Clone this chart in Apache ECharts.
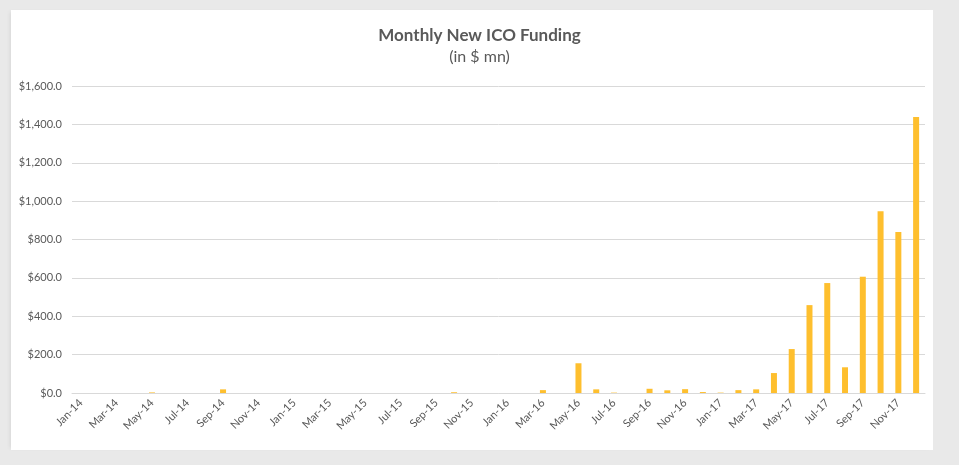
<!DOCTYPE html>
<html>
<head>
<meta charset="utf-8">
<script src="https://cdn.jsdelivr.net/npm/echarts@6/dist/echarts.min.js"></script>
<style>
html,body{margin:0;padding:0;background:#e9e9e9;width:959px;height:465px;overflow:hidden;}
#panel{position:absolute;left:11px;top:10px;width:922px;height:440px;background:#fff;box-shadow:-3px 0 4px -2px rgba(0,0,0,0.08);}
#chart{position:absolute;left:0;top:0;width:959px;height:465px;}
</style>
</head>
<body>
<div id="panel"></div>
<div id="chart"></div>
<script>
const months = ['Jan','Feb','Mar','Apr','May','Jun','Jul','Aug','Sep','Oct','Nov','Dec'];
const years = ['14','15','16','17'];
const categories = [];
years.forEach(y => months.forEach(m => categories.push(m + '-' + y)));

const funding2014 = [0, 0, 0, 0, 3, 0, 0, 0, 19, 0, 0, 0];
const funding2015 = [0, 0, 0, 0, 0, 0, 0, 0, 0, 4, 0, 0];
const funding2016 = [0, 0, 15, 0, 155, 19, 2, 0, 22, 14, 20, 5];
const funding2017 = [2, 15, 19, 104, 229, 458, 573, 134, 606, 947, 839, 1438];
const values = [].concat(funding2014, funding2015, funding2016, funding2017);

const yTicks = [0, 200, 400, 600, 800, 1000, 1200, 1400, 1600];

const chart = echarts.init(document.getElementById('chart'));
const font = 'Lato, "Open Sans", sans-serif';
chart.setOption({
  backgroundColor: 'transparent',
  animation: false,
  title: {
    text: 'Monthly New ICO Funding',
    subtext: '(in $ mn)',
    left: 'center',
    top: 22,
    itemGap: 5,
    textStyle: {fontFamily: font, fontSize: 17, fontWeight: 'bold', color: '#595959'},
    subtextStyle: {fontFamily: font, fontSize: 16, color: '#595959'}
  },
  grid: {left: 72, right: 34, top: 86, bottom: 72},
  xAxis: {
    type: 'category',
    data: categories,
    boundaryGap: true,
    axisLine: {lineStyle: {color: '#d9d9d9'}},
    axisTick: {interval: 1, length: 5, lineStyle: {color: '#d9d9d9'}},
    axisLabel: {interval: 1, rotate: 45, fontFamily: font, fontSize: 11, color: '#595959', margin: 8}
  },
  yAxis: {
    type: 'value',
    min: yTicks[0],
    max: yTicks[yTicks.length - 1],
    interval: 200,
    axisLine: {show: false},
    axisTick: {show: false},
    splitLine: {lineStyle: {color: '#d9d9d9'}},
    axisLabel: {
      margin: 10,
      fontFamily: font, fontSize: 11, color: '#595959',
      formatter: v => '$' + v.toLocaleString('en-US', {minimumFractionDigits: 1, maximumFractionDigits: 1})
    }
  },
  series: [{
    type: 'bar',
    data: values,
    barWidth: 6,
    itemStyle: {color: '#FEBF2E'}
  }]
});
</script>
</body>
</html>
